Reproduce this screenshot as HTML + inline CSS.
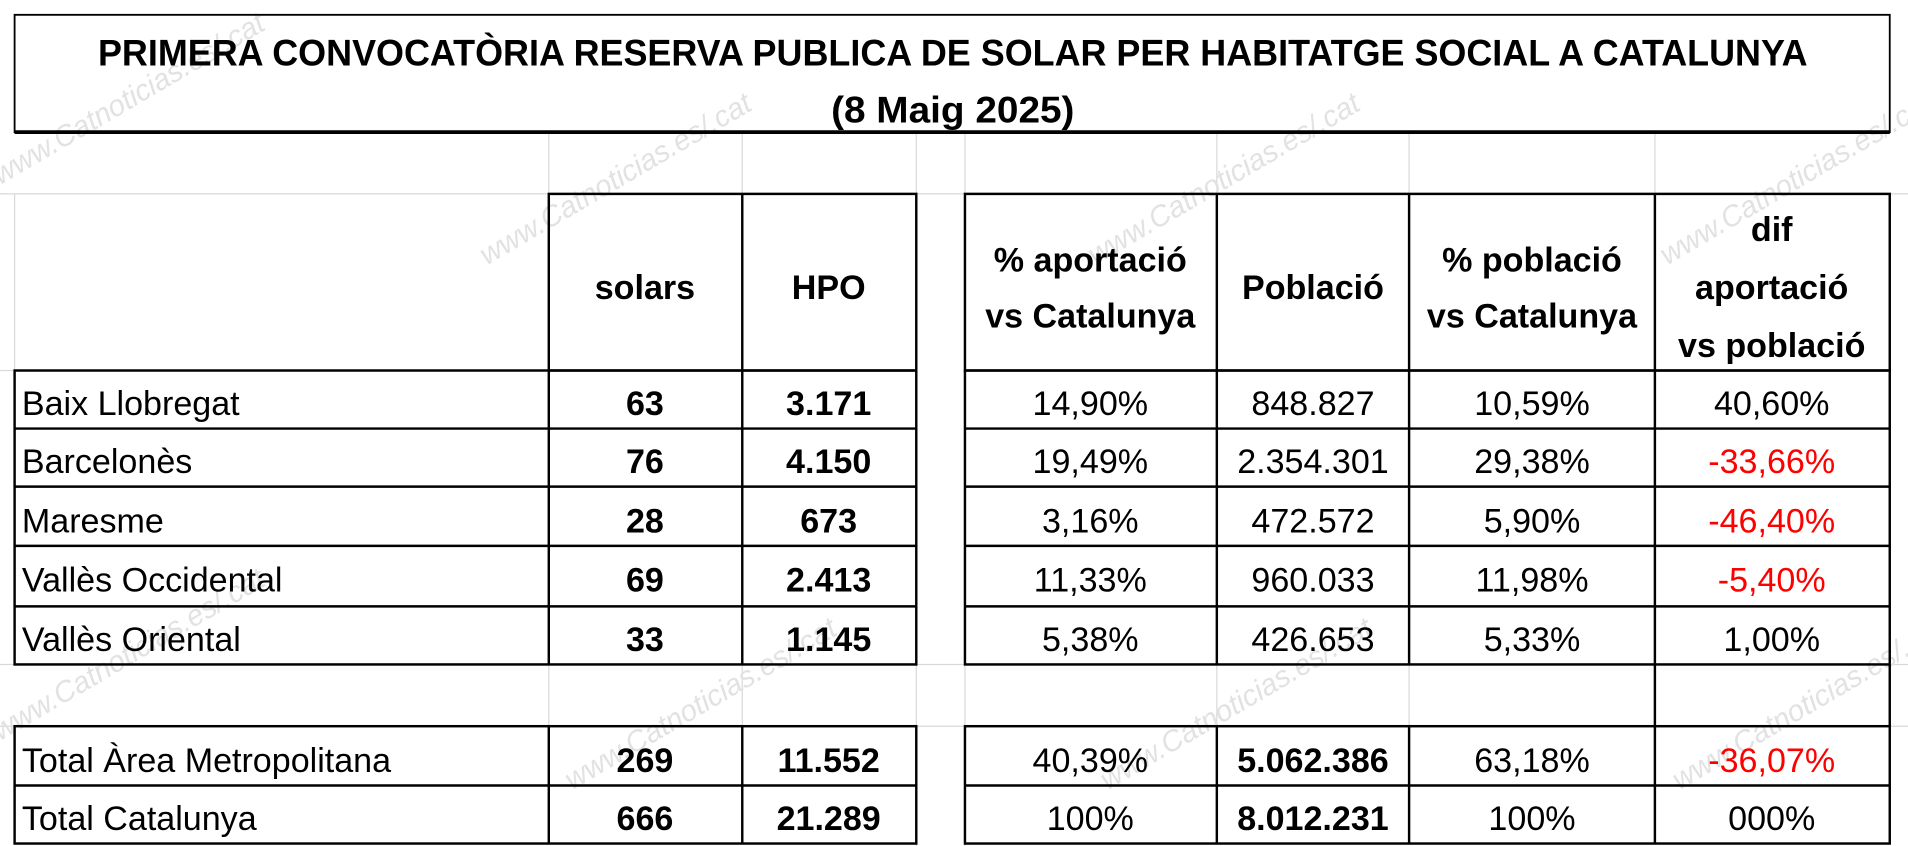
<!DOCTYPE html>
<html><head><meta charset="utf-8"><style>
html,body{margin:0;padding:0;background:#fff;}
svg{display:block;}
text{font-family:"Liberation Sans Narrow","Liberation Sans",sans-serif;}
</style></head><body>
<svg width="1908" height="846" viewBox="0 0 1568 685" preserveAspectRatio="none" xmlns="http://www.w3.org/2000/svg">
<g stroke="#d9d9d9" stroke-width="1">
<line x1="451" y1="108" x2="451" y2="157"/><line x1="610" y1="108" x2="610" y2="157"/><line x1="753" y1="108" x2="753" y2="685"/><line x1="793" y1="108" x2="793" y2="685"/><line x1="1000" y1="108" x2="1000" y2="157"/><line x1="1158" y1="108" x2="1158" y2="157"/><line x1="1360" y1="108" x2="1360" y2="157"/>
<line x1="0" y1="157" x2="1568" y2="157"/><line x1="0" y1="300" x2="12" y2="300"/><line x1="12" y1="157" x2="12" y2="300"/>
<line x1="0" y1="538" x2="1568" y2="538"/><line x1="0" y1="588" x2="1568" y2="588"/>
<line x1="451" y1="538" x2="451" y2="588"/><line x1="610" y1="538" x2="610" y2="588"/><line x1="1000" y1="538" x2="1000" y2="588"/><line x1="1158" y1="538" x2="1158" y2="588"/>
</g>
<g fill="#e2e2e2" font-size="24" font-style="italic">
<text transform="translate(0,150) rotate(-30)">www.Catnoticias.es/.cat</text>
<text transform="translate(400,215) rotate(-30)">www.Catnoticias.es/.cat</text>
<text transform="translate(900,215) rotate(-30)">www.Catnoticias.es/.cat</text>
<text transform="translate(1370,215) rotate(-30)">www.Catnoticias.es/.cat</text>
<text transform="translate(0,600) rotate(-30)">www.Catnoticias.es/.cat</text>
<text transform="translate(470,640) rotate(-30)">www.Catnoticias.es/.cat</text>
<text transform="translate(910,640) rotate(-30)">www.Catnoticias.es/.cat</text>
<text transform="translate(1380,640) rotate(-30)">www.Catnoticias.es/.cat</text>
</g>
<g>
<rect x="12" y="12" width="1541" height="95" fill="none" stroke="#000" stroke-width="1.5"/>
<line x1="12" y1="107" x2="1553" y2="107" stroke="#000" stroke-width="3"/>
<text x="783" y="53" text-anchor="middle" font-size="30" font-weight="bold" textLength="1405" lengthAdjust="spacingAndGlyphs">PRIMERA CONVOCATÒRIA RESERVA PUBLICA DE SOLAR PER HABITATGE SOCIAL A CATALUNYA</text>
<text x="783" y="99" text-anchor="middle" font-size="30" font-weight="bold" textLength="200" lengthAdjust="spacingAndGlyphs">(8 Maig 2025)</text>
</g>
<g stroke="#000" stroke-width="2" fill="none">
<rect x="451" y="157" width="302" height="143"/><line x1="610" y1="157" x2="610" y2="300"/>
<rect x="793" y="157" width="760" height="143"/>
<line x1="1000" y1="157" x2="1000" y2="300"/><line x1="1158" y1="157" x2="1158" y2="300"/><line x1="1360" y1="157" x2="1360" y2="300"/>
<rect x="12" y="300" width="741" height="238"/><rect x="793" y="300" width="760" height="238"/>
<line x1="12" y1="347" x2="753" y2="347"/><line x1="12" y1="394" x2="753" y2="394"/><line x1="12" y1="442" x2="753" y2="442"/><line x1="12" y1="491" x2="753" y2="491"/>
<line x1="793" y1="347" x2="1553" y2="347"/><line x1="793" y1="394" x2="1553" y2="394"/><line x1="793" y1="442" x2="1553" y2="442"/><line x1="793" y1="491" x2="1553" y2="491"/>
<line x1="451" y1="300" x2="451" y2="538"/><line x1="610" y1="300" x2="610" y2="538"/>
<line x1="1000" y1="300" x2="1000" y2="538"/><line x1="1158" y1="300" x2="1158" y2="538"/><line x1="1360" y1="300" x2="1360" y2="683"/><line x1="1553" y1="538" x2="1553" y2="588"/>
<rect x="12" y="588" width="741" height="95"/><rect x="793" y="588" width="760" height="95"/>
<line x1="12" y1="636" x2="753" y2="636"/><line x1="793" y1="636" x2="1553" y2="636"/>
<line x1="451" y1="588" x2="451" y2="683"/><line x1="610" y1="588" x2="610" y2="683"/>
<line x1="1000" y1="588" x2="1000" y2="683"/><line x1="1158" y1="588" x2="1158" y2="683"/>
</g>
<g font-size="28" font-weight="bold" text-anchor="middle" fill="#000">
<text x="530" y="242">solars</text><text x="681" y="242">HPO</text>
<text x="896" y="220">%  aportació</text><text x="896" y="265">vs Catalunya</text>
<text x="1079" y="242">Població</text>
<text x="1259" y="220">%  població</text><text x="1259" y="265">vs Catalunya</text>
<text x="1456" y="195">dif</text><text x="1456" y="242">aportació</text><text x="1456" y="289">vs població</text>
</g>
<g font-size="28" fill="#000">
<g><text x="18" y="336">Baix Llobregat</text><text x="530" y="336" text-anchor="middle" font-weight="bold">63</text><text x="681" y="336" text-anchor="middle" font-weight="bold">3.171</text><text x="896" y="336" text-anchor="middle">14,90%</text><text x="1079" y="336" text-anchor="middle">848.827</text><text x="1259" y="336" text-anchor="middle">10,59%</text><text x="1456" y="336" text-anchor="middle">40,60%</text></g>
<g><text x="18" y="383">Barcelonès</text><text x="530" y="383" text-anchor="middle" font-weight="bold">76</text><text x="681" y="383" text-anchor="middle" font-weight="bold">4.150</text><text x="896" y="383" text-anchor="middle">19,49%</text><text x="1079" y="383" text-anchor="middle">2.354.301</text><text x="1259" y="383" text-anchor="middle">29,38%</text><text x="1456" y="383" text-anchor="middle" fill="#ff0000">-33,66%</text></g>
<g><text x="18" y="431">Maresme</text><text x="530" y="431" text-anchor="middle" font-weight="bold">28</text><text x="681" y="431" text-anchor="middle" font-weight="bold">673</text><text x="896" y="431" text-anchor="middle">3,16%</text><text x="1079" y="431" text-anchor="middle">472.572</text><text x="1259" y="431" text-anchor="middle">5,90%</text><text x="1456" y="431" text-anchor="middle" fill="#ff0000">-46,40%</text></g>
<g><text x="18" y="479">Vallès Occidental</text><text x="530" y="479" text-anchor="middle" font-weight="bold">69</text><text x="681" y="479" text-anchor="middle" font-weight="bold">2.413</text><text x="896" y="479" text-anchor="middle">11,33%</text><text x="1079" y="479" text-anchor="middle">960.033</text><text x="1259" y="479" text-anchor="middle">11,98%</text><text x="1456" y="479" text-anchor="middle" fill="#ff0000">-5,40%</text></g>
<g><text x="18" y="527">Vallès Oriental</text><text x="530" y="527" text-anchor="middle" font-weight="bold">33</text><text x="681" y="527" text-anchor="middle" font-weight="bold">1.145</text><text x="896" y="527" text-anchor="middle">5,38%</text><text x="1079" y="527" text-anchor="middle">426.653</text><text x="1259" y="527" text-anchor="middle">5,33%</text><text x="1456" y="527" text-anchor="middle">1,00%</text></g>
<g><text x="18" y="625">Total Àrea Metropolitana</text><text x="530" y="625" text-anchor="middle" font-weight="bold">269</text><text x="681" y="625" text-anchor="middle" font-weight="bold">11.552</text><text x="896" y="625" text-anchor="middle">40,39%</text><text x="1079" y="625" text-anchor="middle" font-weight="bold">5.062.386</text><text x="1259" y="625" text-anchor="middle">63,18%</text><text x="1456" y="625" text-anchor="middle" fill="#ff0000">-36,07%</text></g>
<g><text x="18" y="672">Total Catalunya</text><text x="530" y="672" text-anchor="middle" font-weight="bold">666</text><text x="681" y="672" text-anchor="middle" font-weight="bold">21.289</text><text x="896" y="672" text-anchor="middle">100%</text><text x="1079" y="672" text-anchor="middle" font-weight="bold">8.012.231</text><text x="1259" y="672" text-anchor="middle">100%</text><text x="1456" y="672" text-anchor="middle">000%</text></g>
</g>
</svg>
</body></html>
